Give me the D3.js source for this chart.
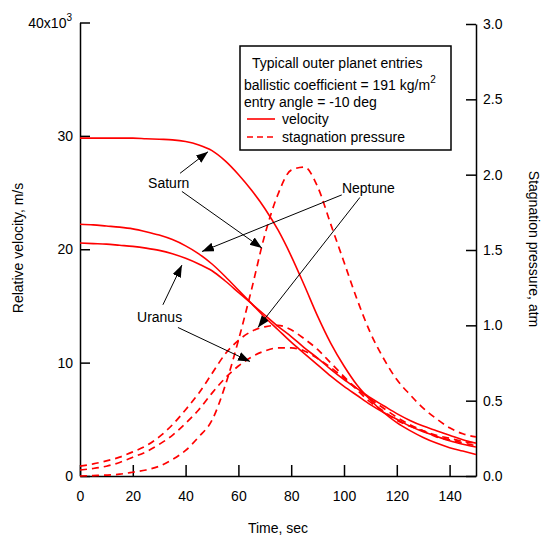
<!DOCTYPE html>
<html>
<head>
<meta charset="utf-8">
<script src="https://cdn.jsdelivr.net/npm/d3@7"></script>
<style>
  body { margin: 0; background: #fff; }
  text { font-family: "Liberation Sans", Arial, sans-serif; }
</style>
</head>
<body>
<script>
// time, sec
const times = [0, 5, 10, 15, 20, 25, 30, 35, 40, 45, 50, 55, 60, 65, 70, 75,
               80, 85, 90, 95, 100, 105, 110, 115, 120, 125, 130, 135, 140, 145, 150]

// relative velocity, x10^3 m/s
const saturnVel = [29.8, 29.8, 29.8, 29.8, 29.8, 29.75, 29.7, 29.65, 29.5, 29.2, 28.7, 27.8, 26.6, 25.2, 23.6, 21.7,
                   19.4, 16.8, 14.1, 11.7, 9.7, 8.0, 6.7, 5.6, 4.7, 4.0, 3.4, 2.9, 2.5, 2.2, 1.9]
const neptuneVel = [22.2, 22.15, 22.05, 21.95, 21.8, 21.55, 21.25, 20.85, 20.3, 19.6, 18.7, 17.6, 16.4, 15.2, 14.0, 12.9,
                    11.8, 10.8, 9.8, 8.8, 7.9, 7.1, 6.3, 5.6, 5.0, 4.4, 3.9, 3.5, 3.1, 2.8, 2.55]
const uranusVel = [20.55, 20.5, 20.45, 20.35, 20.25, 20.1, 19.9, 19.6, 19.2, 18.7, 18.1, 17.2, 16.2, 15.2, 14.2, 13.2,
                   12.3, 11.3, 10.4, 9.4, 8.5, 7.7, 6.9, 6.2, 5.5, 4.9, 4.4, 4.0, 3.6, 3.2, 2.9]

// stagnation pressure, atm
const saturnPres = [0.0, 0.003, 0.006, 0.012, 0.025, 0.04, 0.065, 0.11, 0.17, 0.26, 0.37, 0.6, 0.9, 1.24, 1.6, 1.87,
                    2.03, 2.05, 1.92, 1.67, 1.42, 1.17, 0.95, 0.78, 0.64, 0.54, 0.45, 0.38, 0.32, 0.28, 0.26]
const neptunePres = [0.065, 0.08, 0.1, 0.125, 0.16, 0.2, 0.26, 0.34, 0.44, 0.55, 0.68, 0.81, 0.9, 0.96, 0.99, 1.0,
                     0.97, 0.91, 0.84, 0.75, 0.66, 0.57, 0.49, 0.43, 0.37, 0.33, 0.3, 0.27, 0.25, 0.23, 0.22]
const uranusPres = [0.04, 0.05, 0.065, 0.09, 0.125, 0.16, 0.21, 0.27, 0.35, 0.44, 0.55, 0.65, 0.73, 0.79, 0.83, 0.85,
                    0.85, 0.83, 0.78, 0.72, 0.65, 0.58, 0.51, 0.45, 0.39, 0.34, 0.3, 0.26, 0.24, 0.22, 0.2]

const xTicks = [0, 20, 40, 60, 80, 100, 120, 140]
const velTicks = [0, 10, 20, 30, 40]
const presTicks = [0, 0.5, 1.0, 1.5, 2.0, 2.5, 3.0]

// annotation arrows, in data units (t, velocity x10^3)
const labels = [
  { name: 'Saturn', t: 25.8, v: 25.4 },
  { name: 'Neptune', t: 99.2, v: 25.0 },
  { name: 'Uranus', t: 21.6, v: 13.6 }
]
const arrows = [
  [37.9, 26.7, 48.5, 28.6],
  [38.6, 25.1, 68.9, 20.1],
  [99.2, 24.8, 46.2, 19.8],
  [106.8, 24.8, 67.4, 13.1],
  [31.4, 15.1, 38.6, 18.6],
  [37.1, 13.1, 64.4, 10.1]
]

const w = 545
const h = 537

const svg = d3.select('body')
    .append('svg')
    .attr('width', w)
    .attr('height', h)

const x = d3.scaleLinear().domain([0, 150]).range([80, 476])
const yVel = d3.scaleLinear().domain([0, 40]).range([476, 22.5])
const yPres = d3.scaleLinear().domain([0, 3]).range([476, 24])

svg.append('defs')
    .append('marker')
    .attr('id', 'head')
    .attr('markerUnits', 'userSpaceOnUse')
    .attr('markerWidth', 13)
    .attr('markerHeight', 10)
    .attr('refX', 12)
    .attr('refY', 4.5)
    .attr('orient', 'auto')
    .append('path')
    .attr('d', 'M0,0 L12,4.5 L0,9 Z')
    .attr('fill', '#000')

// axes
const styleAxis = g => {
    g.attr('font-size', 14).attr('font-family', null)
    g.select('.domain').attr('stroke-width', 1.5)
    g.selectAll('.tick line').attr('stroke-width', 1.5)
    g.selectAll('.tick text').attr('fill', '#000')
}

svg.append('g')
    .attr('transform', 'translate(0,476)')
    .call(d3.axisBottom(x).tickValues(xTicks).tickSize(-11).tickSizeOuter(0).tickPadding(15))
    .call(styleAxis)

svg.append('g')
    .attr('transform', 'translate(80,0)')
    .call(d3.axisLeft(yVel).tickValues(velTicks).tickSize(-10).tickSizeOuter(0).tickPadding(7)
        .tickFormat(d => d === 40 ? '' : d))
    .call(styleAxis)

const topLabel = svg.append('text')
    .attr('x', 72)
    .attr('y', yVel(40) + 5)
    .attr('text-anchor', 'end')
    .attr('font-size', 14)
topLabel.append('tspan').text('40x10')
topLabel.append('tspan').attr('dy', -7).attr('font-size', 10).text('3')

svg.append('g')
    .attr('transform', 'translate(476,0)')
    .call(d3.axisRight(yPres).tickValues(presTicks).tickSize(-10).tickSizeOuter(0).tickPadding(7)
        .tickFormat(d3.format('.1f')))
    .call(styleAxis)

// axis titles
svg.append('text')
    .attr('transform', 'translate(23,248) rotate(-90)')
    .attr('text-anchor', 'middle')
    .attr('font-size', 14)
    .text('Relative velocity, m/s')

svg.append('text')
    .attr('transform', 'translate(529,249) rotate(90)')
    .attr('text-anchor', 'middle')
    .attr('font-size', 14)
    .text('Stagnation pressure, atm')

svg.append('text')
    .attr('x', 278)
    .attr('y', 533)
    .attr('text-anchor', 'middle')
    .attr('font-size', 14)
    .text('Time, sec')

// curves
const velLine = d3.line().x((d, i) => x(times[i])).y(d => yVel(d)).curve(d3.curveMonotoneX)
const presLine = d3.line().x((d, i) => x(times[i])).y(d => yPres(d)).curve(d3.curveMonotoneX)

svg.append('g')
    .selectAll('path')
    .data([saturnVel, neptuneVel, uranusVel])
    .enter()
    .append('path')
    .attr('d', velLine)
    .attr('fill', 'none')
    .attr('stroke', '#f00')
    .attr('stroke-width', 1.6)

svg.append('g')
    .selectAll('path')
    .data([saturnPres, neptunePres, uranusPres])
    .enter()
    .append('path')
    .attr('d', presLine)
    .attr('fill', 'none')
    .attr('stroke', '#f00')
    .attr('stroke-width', 1.7)
    .attr('stroke-dasharray', '7,5')

// annotations
svg.append('g')
    .selectAll('line')
    .data(arrows)
    .enter()
    .append('line')
    .attr('x1', d => x(d[0]))
    .attr('y1', d => yVel(d[1]))
    .attr('x2', d => x(d[2]))
    .attr('y2', d => yVel(d[3]))
    .attr('stroke', '#000')
    .attr('stroke-width', 1)
    .attr('marker-end', 'url(#head)')

svg.append('g')
    .selectAll('text')
    .data(labels)
    .enter()
    .append('text')
    .attr('x', d => x(d.t))
    .attr('y', d => yVel(d.v))
    .attr('font-size', 14)
    .attr('stroke', '#fff')
    .attr('stroke-width', 3)
    .attr('paint-order', 'stroke')
    .text(d => d.name)

// legend
const legend = svg.append('g')

legend.append('rect')
    .attr('x', 240)
    .attr('y', 46)
    .attr('width', 211)
    .attr('height', 104)
    .attr('fill', '#fff')
    .attr('stroke', '#000')
    .attr('stroke-width', 1.5)

legend.append('text').attr('x', 252).attr('y', 68).attr('font-size', 14)
    .text('Typicall outer planet entries')

const bc = legend.append('text').attr('x', 244).attr('y', 90).attr('font-size', 14)
bc.append('tspan').text('ballistic coefficient = 191 kg/m')
bc.append('tspan').attr('dy', -7).attr('font-size', 10).text('2')

legend.append('text').attr('x', 244).attr('y', 107).attr('font-size', 14)
    .text('entry angle = -10 deg')

legend.append('line')
    .attr('x1', 247).attr('x2', 275).attr('y1', 119).attr('y2', 119)
    .attr('stroke', '#f00').attr('stroke-width', 1.6)
legend.append('text').attr('x', 282).attr('y', 124).attr('font-size', 14).text('velocity')

legend.append('line')
    .attr('x1', 247).attr('x2', 275).attr('y1', 137).attr('y2', 137)
    .attr('stroke', '#f00').attr('stroke-width', 1.6).attr('stroke-dasharray', '6,4')
legend.append('text').attr('x', 282).attr('y', 142).attr('font-size', 14).text('stagnation pressure')
</script>
</body>
</html>
